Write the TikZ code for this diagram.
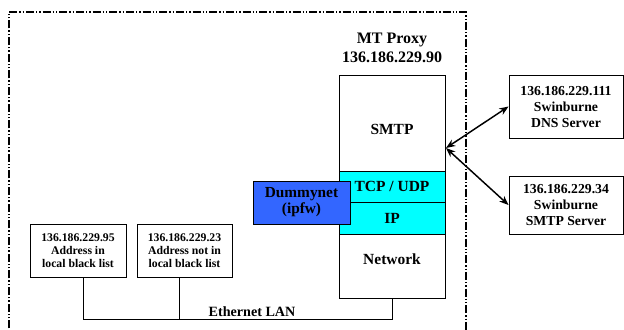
\documentclass[tikz,border=0pt]{standalone}
\usepackage{fontspec}
\setmainfont{Liberation Serif}
\usetikzlibrary{arrows.meta}
\definecolor{dummyblue}{RGB}{51,102,255}
\definecolor{layercyan}{RGB}{0,255,255}
\tikzset{
  box/.style={draw, line width=0.7pt, inner sep=0pt, align=center, font=\bfseries},
  layer/.style={box, minimum width=79.5pt},
  hosttxt/.style={font=\fontsize{8.8}{9.75}\selectfont\bfseries, align=center},
  srvtxt/.style={font=\fontsize{10.3}{12}\selectfont\bfseries, align=center},
  border/.style={line width=1pt, dash pattern=on 6pt off 1.5pt on 1pt off 1.5pt on 1pt off 1.5pt},
  link/.style={line width=1.1pt, {Stealth[length=7pt,width=5.5pt]}-{Stealth[length=7pt,width=5.5pt]}},
  wire/.style={line width=0.7pt}
}
\begin{document}
\begin{tikzpicture}[x=0.75pt,y=-0.75pt]
\clip (0,0) rectangle (624,329);
\fill[white] (0,0) rectangle (624,329);

% boundary of the local network
\draw[border] (9,345) -- (9,12) -- (466,12) -- (466,345);

% proxy title
\node[font=\fontsize{12}{14.25}\selectfont\bfseries, align=center] (title) at (392,47.5) {MT Proxy\\136.186.229.90};

% protocol stack of the proxy
\node[layer, minimum height=72pt] (smtp) at (392,123) {};
\node[font=\fontsize{11.6}{13}\selectfont\bfseries] (smtptxt) at (392,129) {SMTP};
\node[layer, fill=layercyan, minimum height=23.25pt, font=\fontsize{11.6}{13}\selectfont\bfseries] (tcp) at (392,186.5) {TCP / UDP};
\node[layer, fill=layercyan, minimum height=24pt, font=\fontsize{11.6}{13}\selectfont\bfseries] (ip) at (392,218) {IP};
\node[layer, minimum height=48pt] (net) at (392,266) {};
\node[font=\fontsize{11.6}{13}\selectfont\bfseries] (nettxt) at (392,259) {Network};

% traffic shaper
\node[box, fill=dummyblue, minimum width=72.75pt, minimum height=32.25pt,
      font=\fontsize{11.5}{12}\selectfont\bfseries] (dummy) at (301.5,202.5) {Dummynet\\(ipfw)};

% external servers
\node[box, srvtxt, minimum width=85.5pt, minimum height=47.25pt] (dns) at (566,106.5) {136.186.229.111\\Swinburne\\DNS Server};
\node[box, srvtxt, minimum width=85.5pt, minimum height=43.5pt] (smtpsrv) at (566,205) {136.186.229.34\\Swinburne\\SMTP Server};

% local hosts
\node[box, hosttxt, minimum width=72pt, minimum height=39.75pt] (hostA) at (78,250.5) {136.186.229.95\\Address in\\local black list};
\node[box, hosttxt, minimum width=71.25pt, minimum height=39.75pt] (hostB) at (184.5,250.5) {136.186.229.23\\Address not in\\local black list};

% connections from the proxy to the servers
\coordinate (hub) at (446,148);
\draw[link] (hub) -- (dns.west);
\draw[link] (hub) -- (smtpsrv.west);

% ethernet bus
\coordinate (bus) at (0,319);
\coordinate (tapA) at ([xshift=3.75pt]hostA.south);
\coordinate (tapB) at ([xshift=-4pt]hostB.south);
\draw[wire] (tapA) -- (tapA |- bus) -- (net.south |- bus) -- (net.south);
\draw[wire] (tapB) -- (tapB |- bus);
\node[font=\fontsize{10.6}{12}\selectfont\bfseries] (lan) at (252,312) {Ethernet LAN};
\end{tikzpicture}
\end{document}
